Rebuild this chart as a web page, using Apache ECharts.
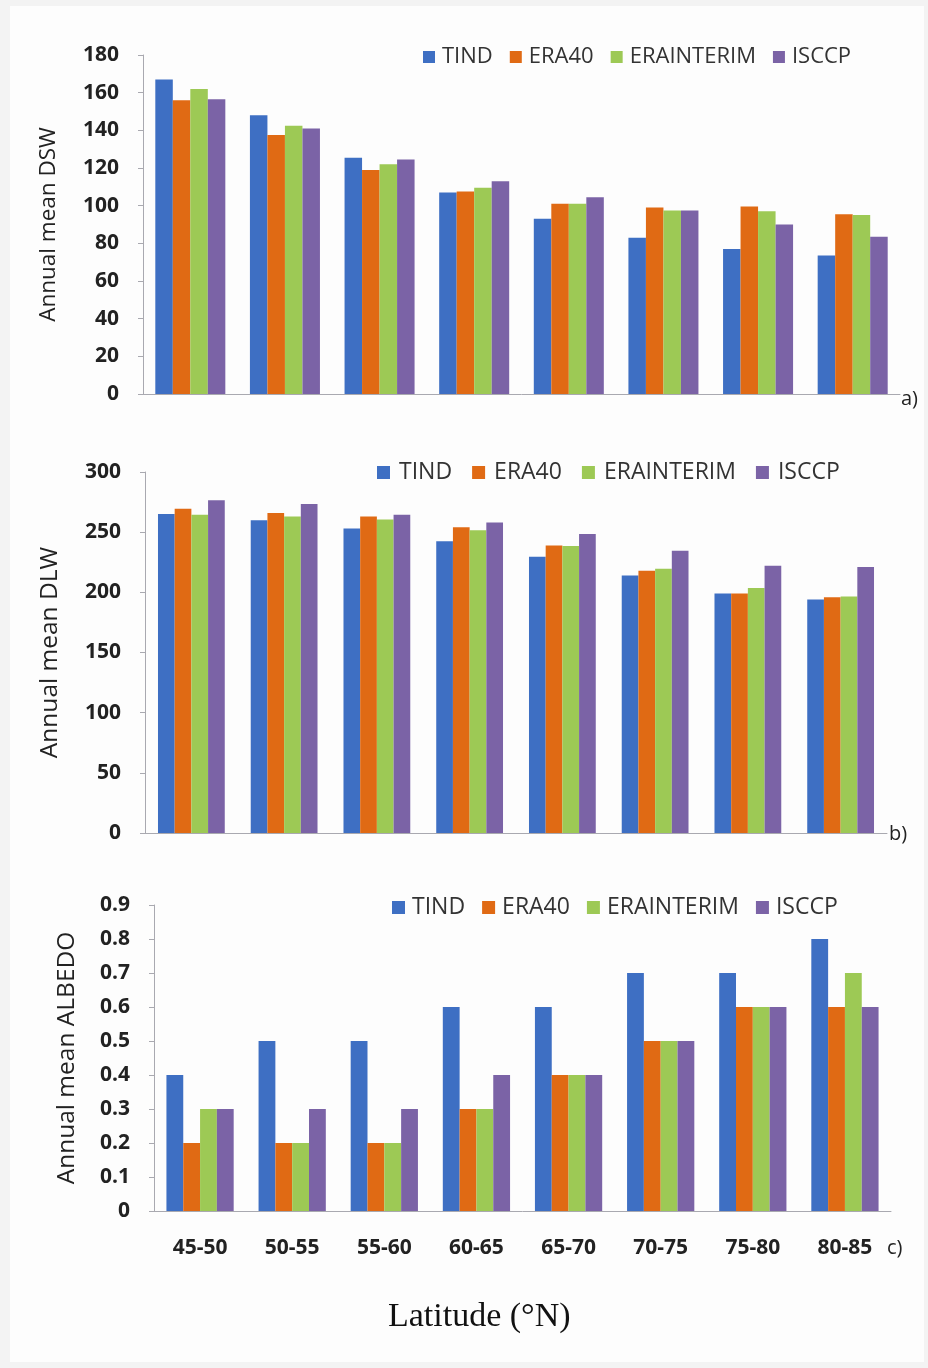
<!DOCTYPE html>
<html>
<head>
<meta charset="utf-8">
<script src="https://cdn.jsdelivr.net/npm/echarts@6/dist/echarts.min.js"></script>
<style>
html,body{margin:0;padding:0;background:#f3f3f3;}
#chart{width:928px;height:1368px;}
</style>
</head>
<body>
<div id="chart"></div>
<script>
var categories = ['45-50','50-55','55-60','60-65','65-70','70-75','75-80','80-85'];
var seriesNames = ['TIND','ERA40','ERAINTERIM','ISCCP'];

var dswTIND  = [167, 148, 125.5, 107, 93, 83, 77, 73.5];
var dswERA40 = [156, 137.5, 119, 107.5, 101, 99, 99.5, 95.5];
var dswERAI  = [162, 142.5, 122, 109.5, 101, 97.5, 97, 95];
var dswISCCP = [156.5, 141, 124.5, 113, 104.5, 97.5, 90, 83.5];

var dlwTIND  = [265, 260, 253, 242.5, 229.5, 214, 199, 194];
var dlwERA40 = [269.5, 266, 263, 254, 239, 218, 199, 196];
var dlwERAI  = [264.5, 263, 260.5, 251.5, 238.5, 219.5, 203.5, 196.5];
var dlwISCCP = [276.5, 273.5, 264.5, 258, 248.5, 234.5, 222, 221];

var albTIND  = [0.4, 0.5, 0.5, 0.6, 0.6, 0.7, 0.7, 0.8];
var albERA40 = [0.2, 0.2, 0.2, 0.3, 0.4, 0.5, 0.6, 0.6];
var albERAI  = [0.3, 0.2, 0.2, 0.3, 0.4, 0.5, 0.6, 0.7];
var albISCCP = [0.3, 0.3, 0.3, 0.4, 0.4, 0.5, 0.6, 0.6];

var yTicksDSW = {min: 0, max: 180, interval: 20};
var yTicksDLW = {min: 0, max: 300, interval: 50};
var yTicksALB = {min: 0, max: 0.9, interval: 0.1};

var colors = ['#3E6FC3', '#E06A14', '#9DC955', '#7B63A6'];
var FONT = '"Open Sans", Lato, sans-serif';
var axisColor = '#a9a9b0';

var panels = [
  {grid: {left: 143, width: 757, top: 55, height: 339}, name: 'Annual mean DSW', nameSize: 22.5, nameGap: 83, ticks: yTicksDSW,
   data: [dswTIND, dswERA40, dswERAI, dswISCCP], showX: false, gap: '26%',
   legend: {left: 418, top: 41, fontSize: 22, itemGap: 17, icon: 12, pad: 2}},
  {grid: {left: 145, width: 742, top: 472, height: 361}, name: 'Annual mean DLW', nameSize: 24.5, nameGap: 82, ticks: yTicksDLW,
   data: [dlwTIND, dlwERA40, dlwERAI, dlwISCCP], showX: false, gap: '28%',
   legend: {left: 372, top: 456, fontSize: 23, itemGap: 20, icon: 13, pad: 4}},
  {grid: {left: 154, width: 737, top: 905, height: 306}, name: 'Annual mean ALBEDO', nameSize: 24.5, nameGap: 74, ticks: yTicksALB,
   data: [albTIND, albERA40, albERAI, albISCCP], showX: true, gap: '27%',
   legend: {left: 387, top: 891, fontSize: 23, itemGap: 17, icon: 13, pad: 2}}
];

var option = {
  animation: false,
  backgroundColor: 'transparent',
  grid: [], xAxis: [], yAxis: [], series: [], legend: [],
  graphic: [
    {type: 'rect', left: 10, top: 6, shape: {width: 914, height: 1356}, style: {fill: '#fdfdfd'}, z: -10},
    {type: 'text', left: 901, top: 389, style: {text: 'a)', font: '20px ' + FONT, fill: '#222'}},
    {type: 'text', left: 889, top: 824, style: {text: 'b)', font: '20px ' + FONT, fill: '#222'}},
    {type: 'text', left: 887, top: 1238, style: {text: 'c)', font: '20px ' + FONT, fill: '#222'}},
    {type: 'text', left: 388, top: 1300, style: {text: 'Latitude (\u00B0N)', font: '34px "Liberation Serif", "DejaVu Serif", serif', fill: '#111'}}
  ]
};

panels.forEach(function (p, i) {
  option.grid.push(p.grid);
  option.xAxis.push({
    type: 'category', gridIndex: i, data: categories,
    axisLine: {show: true, lineStyle: {color: axisColor, width: 1}},
    axisTick: {show: false},
    axisLabel: {show: p.showX, fontFamily: FONT, fontWeight: 'bold', fontSize: 21, color: '#222', margin: 27}
  });
  option.yAxis.push({
    type: 'value', gridIndex: i, min: p.ticks.min, max: p.ticks.max, interval: p.ticks.interval,
    name: p.name, nameLocation: 'middle', nameGap: p.nameGap, nameRotate: 90,
    nameTextStyle: {fontFamily: FONT, fontSize: p.nameSize, color: '#222'},
    axisLine: {show: true, lineStyle: {color: axisColor, width: 1}},
    axisTick: {show: true, length: 5, lineStyle: {color: axisColor}},
    splitLine: {show: false},
    axisLabel: {fontFamily: FONT, fontWeight: 'bold', fontSize: 21, color: '#222', margin: 24}
  });
  option.legend.push({
    left: p.legend.left, top: p.legend.top, icon: 'rect',
    itemWidth: p.legend.icon, itemHeight: p.legend.icon, itemGap: p.legend.itemGap,
    data: seriesNames, selectedMode: false,
    textStyle: {fontFamily: FONT, fontSize: p.legend.fontSize, color: '#333', padding: [0, 0, 0, p.legend.pad]}
  });
  p.data.forEach(function (vals, k) {
    option.series.push({
      type: 'bar', name: seriesNames[k], xAxisIndex: i, yAxisIndex: i, data: vals,
      itemStyle: {color: colors[k]}, barGap: '0%', barCategoryGap: p.gap
    });
  });
});

var chart = echarts.init(document.getElementById('chart'), null, {renderer: 'canvas'});
chart.setOption(option);
</script>
</body>
</html>
